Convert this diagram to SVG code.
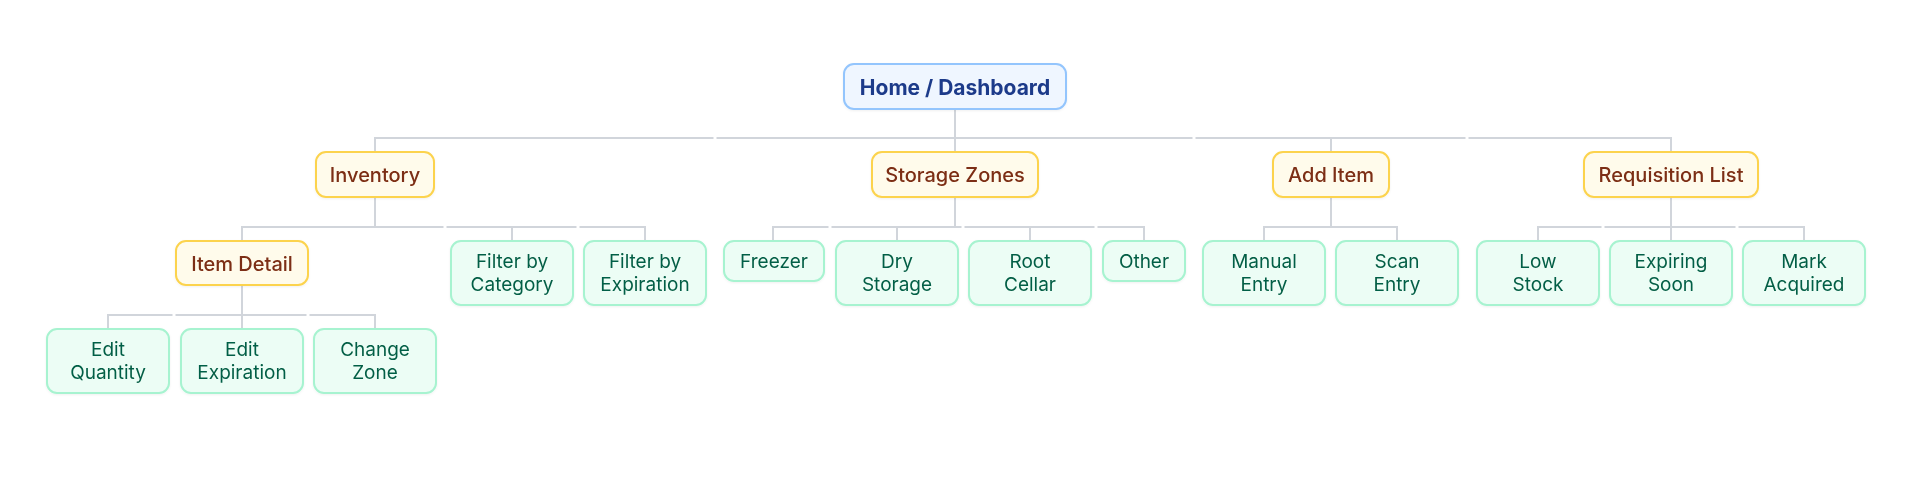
<svg xmlns="http://www.w3.org/2000/svg" width="1920" height="486" viewBox="0 0 1920 486">
<style>
  .bg{fill:#ffffff}
  .edge{fill:none;stroke:#d1d5db;stroke-width:2}
  .root rect{fill:#eff6ff;stroke:#93c5fd;stroke-width:2}
  .sec rect{fill:#fffbeb;stroke:#fcd34d;stroke-width:2}
  .leaf rect{fill:#ecfdf5;stroke:#a7f3d0;stroke-width:2}
  text{font-family:Inter,"Noto Sans","Liberation Sans",sans-serif;text-anchor:middle}
  .root text{font-size:21px;font-weight:700;fill:#1e3a8a}
  .sec text{font-size:20px;font-weight:500;fill:#7c2d12}
  .leaf text{font-size:19px;font-weight:400;fill:#065f46}
</style>
<defs>
  <filter id="sh" x="-10%" y="-20%" width="120%" height="150%">
    <feDropShadow dx="0" dy="1" stdDeviation="1.2" flood-color="#000" flood-opacity="0.06"/>
  </filter>
</defs>
<rect class="bg" x="0" y="0" width="1920" height="486"/>
<g id="connectors">
  <path class="edge" d="M955 109V138"/>
  <path class="edge" d="M375 152V138H713.5M716.5 138H1192.5M955 138V152M1195.5 138H1465.5M1331 138V152M1468.5 138H1671V152"/>
  <path class="edge" d="M375 197V227"/>
  <path class="edge" d="M242 241V227H443.5M446.5 227H576.5M512 227V241M579.5 227H645V241"/>
  <path class="edge" d="M242 285V315"/>
  <path class="edge" d="M108 329V315H172.5M175.5 315H306.5M242 315V329M309.5 315H375V329"/>
  <path class="edge" d="M955 197V227"/>
  <path class="edge" d="M773 241V227H828.5M831.5 227H961.5M897 227V241M964.5 227H1094.5M1030 227V241M1097.5 227H1144V241"/>
  <path class="edge" d="M1331 197V227"/>
  <path class="edge" d="M1264 241V227H1397V241"/>
  <path class="edge" d="M1671 197V227"/>
  <path class="edge" d="M1538 241V227H1601.5M1604.5 227H1735.5M1671 227V241M1738.5 227H1804V241"/>
</g>
<g id="home" class="root" filter="url(#sh)"><rect x="844" y="64" width="222" height="45" rx="10"/><text x="955" y="94.5">Home / Dashboard</text></g>

<g id="inventory" class="sec" filter="url(#sh)"><rect x="316" y="152" width="118" height="45" rx="10"/><text x="375" y="182">Inventory</text></g>
<g id="storage-zones" class="sec" filter="url(#sh)"><rect x="872" y="152" width="166" height="45" rx="10"/><text x="955" y="182">Storage Zones</text></g>
<g id="add-item" class="sec" filter="url(#sh)"><rect x="1273" y="152" width="116" height="45" rx="10"/><text x="1331" y="182">Add Item</text></g>
<g id="requisition-list" class="sec" filter="url(#sh)"><rect x="1584" y="152" width="174" height="45" rx="10"/><text x="1671" y="182">Requisition List</text></g>

<g id="item-detail" class="sec" filter="url(#sh)"><rect x="176" y="241" width="132" height="44" rx="10"/><text x="242" y="271">Item Detail</text></g>
<g id="filter-category" class="leaf" filter="url(#sh)"><rect x="451" y="241" width="122" height="64" rx="10"/><text x="512" y="268">Filter by</text><text x="512" y="291">Category</text></g>
<g id="filter-expiration" class="leaf" filter="url(#sh)"><rect x="584" y="241" width="122" height="64" rx="10"/><text x="645" y="268">Filter by</text><text x="645" y="291">Expiration</text></g>

<g id="freezer" class="leaf" filter="url(#sh)"><rect x="724" y="241" width="100" height="40" rx="10"/><text x="774" y="267.5">Freezer</text></g>
<g id="dry-storage" class="leaf" filter="url(#sh)"><rect x="836" y="241" width="122" height="64" rx="10"/><text x="897" y="268">Dry</text><text x="897" y="291">Storage</text></g>
<g id="root-cellar" class="leaf" filter="url(#sh)"><rect x="969" y="241" width="122" height="64" rx="10"/><text x="1030" y="268">Root</text><text x="1030" y="291">Cellar</text></g>
<g id="other" class="leaf" filter="url(#sh)"><rect x="1103" y="241" width="82" height="40" rx="10"/><text x="1144" y="267.5">Other</text></g>

<g id="manual-entry" class="leaf" filter="url(#sh)"><rect x="1203" y="241" width="122" height="64" rx="10"/><text x="1264" y="268">Manual</text><text x="1264" y="291">Entry</text></g>
<g id="scan-entry" class="leaf" filter="url(#sh)"><rect x="1336" y="241" width="122" height="64" rx="10"/><text x="1397" y="268">Scan</text><text x="1397" y="291">Entry</text></g>

<g id="low-stock" class="leaf" filter="url(#sh)"><rect x="1477" y="241" width="122" height="64" rx="10"/><text x="1538" y="268">Low</text><text x="1538" y="291">Stock</text></g>
<g id="expiring-soon" class="leaf" filter="url(#sh)"><rect x="1610" y="241" width="122" height="64" rx="10"/><text x="1671" y="268">Expiring</text><text x="1671" y="291">Soon</text></g>
<g id="mark-acquired" class="leaf" filter="url(#sh)"><rect x="1743" y="241" width="122" height="64" rx="10"/><text x="1804" y="268">Mark</text><text x="1804" y="291">Acquired</text></g>

<g id="edit-quantity" class="leaf" filter="url(#sh)"><rect x="47" y="329" width="122" height="64" rx="10"/><text x="108" y="356">Edit</text><text x="108" y="379">Quantity</text></g>
<g id="edit-expiration" class="leaf" filter="url(#sh)"><rect x="181" y="329" width="122" height="64" rx="10"/><text x="242" y="356">Edit</text><text x="242" y="379">Expiration</text></g>
<g id="change-zone" class="leaf" filter="url(#sh)"><rect x="314" y="329" width="122" height="64" rx="10"/><text x="375" y="356">Change</text><text x="375" y="379">Zone</text></g>
</svg>
